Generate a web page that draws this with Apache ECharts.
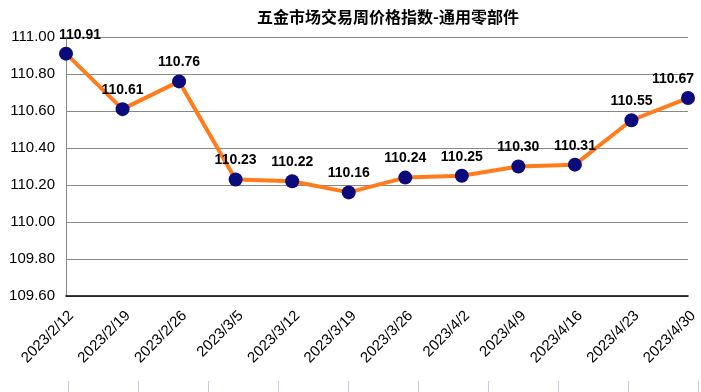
<!DOCTYPE html>
<html><head><meta charset="utf-8">
<script src="https://cdn.jsdelivr.net/npm/echarts@6/dist/echarts.min.js"></script>
<style>html,body{margin:0;padding:0;background:#fff}#c{width:701px;height:392px}</style>
</head><body><div id="c"></div>
<script>
var categories = ['2023/2/12','2023/2/19','2023/2/26','2023/3/5','2023/3/12','2023/3/19','2023/3/26','2023/4/2','2023/4/9','2023/4/16','2023/4/23','2023/4/30'];
var values = [110.91,110.61,110.76,110.23,110.22,110.16,110.24,110.25,110.30,110.31,110.55,110.67];
var yTicks = {min:109.6, max:111.0, interval:0.2};
var chart = echarts.init(document.getElementById('c'), null, {renderer:'canvas'});
var ff = '"Liberation Sans", Arial, sans-serif';
chart.setOption({
  animation:false,
  backgroundColor:'#fff',
  title:{text:'五金市场交易周价格指数-通用零部件', left:383, textAlign:'center', top:4,
    textStyle:{fontFamily:'"Noto Sans CJK SC", sans-serif', fontSize:16, fontWeight:'bold', color:'#000'}},
  grid:[{left:66, right:13, top:37, bottom:96, containLabel:false},
        {left:68, width:630, top:370, height:11}],
  xAxis:[{type:'category', data:categories, boundaryGap:false,
    axisLine:{show:true, lineStyle:{color:'#000', width:1.5}},
    axisTick:{show:false},
    axisLabel:{rotate:45, fontSize:15, fontFamily:ff, color:'#000', margin:12, interval:0, verticalAlign:'top'},
    splitLine:{show:false}},
    {type:'value', gridIndex:1, min:0, max:9, interval:1,
    axisLine:{show:false}, axisLabel:{show:false}, splitLine:{show:false},
    axisTick:{show:true, length:12, lineStyle:{color:'#c5cbe0', width:1}}}],
  yAxis:[{type:'value', min:yTicks.min, max:yTicks.max, interval:yTicks.interval,
    axisLine:{show:true, lineStyle:{color:'#888'}},
    axisTick:{show:false},
    axisLabel:{fontSize:15, fontFamily:ff, color:'#000', margin:11, formatter:function(v){return v.toFixed(2);}},
    splitLine:{show:true, lineStyle:{color:'#888', width:1}}},
    {type:'value', gridIndex:1, show:false}],
  series:[{type:'line', data:values, symbol:'circle', symbolSize:14,
    lineStyle:{color:'#ff7c1c', width:4},
    itemStyle:{color:'#0b0b7c'},
    label:{show:true, position:'top', distance:5, fontSize:14, fontWeight:'bold', fontFamily:ff, color:'#000',
      formatter:function(p){return p.value.toFixed(2);}},
    labelLayout:function(p){
      if(p.dataIndex===0) return {dx:14};
      if(p.dataIndex===values.length-1) return {dx:-15};
      return {};
    }
  }]
});
</script></body></html>
